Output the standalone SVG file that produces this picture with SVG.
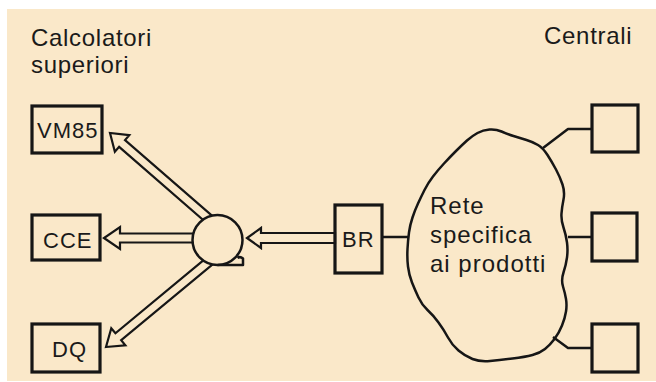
<svg xmlns="http://www.w3.org/2000/svg" width="656" height="382" viewBox="0 0 656 382">
<style>
.bg{fill:#FAE8C9}
.box{fill:none;stroke:#161616;stroke-width:3.2}
.lbl{font-family:"Liberation Sans",Arial,sans-serif;font-size:22px;letter-spacing:1px;fill:#1a1a1a}
.txt{font-family:"Liberation Sans",Arial,sans-serif;font-size:24px;letter-spacing:0.7px;fill:#1a1a1a}
.ctxt{font-family:"Liberation Sans",Arial,sans-serif;font-size:24px;letter-spacing:1px;fill:#1a1a1a}
.line{fill:none;stroke:#161616;stroke-width:2.5;stroke-linejoin:round}
.arrow{fill:#FAE8C9;stroke:#161616;stroke-width:2.2;stroke-linejoin:miter}
</style>
<rect x="0" y="0" width="656" height="382" fill="#ffffff"/>
<rect class="bg" x="7" y="9" width="649" height="372"/>
<text class="txt" x="31" y="46">Calcolatori</text>
<text class="txt" x="31" y="73">superiori</text>
<text class="txt" x="544" y="44">Centrali</text>
<g id="connectors">
<polygon class="arrow" transform="translate(110,133) rotate(221)" points="0,0 -16,-11 -16,-4.5 -135,-4.5 -135,4.5 -16,4.5 -16,11"/>
<polygon class="arrow" transform="translate(104,238) rotate(180)" points="0,0 -16,-11 -16,-4.5 -100,-4.5 -100,4.5 -16,4.5 -16,11"/>
<polygon class="arrow" transform="translate(106,347) rotate(140.3)" points="0,0 -16,-11 -16,-4.5 -140,-4.5 -140,4.5 -16,4.5 -16,11"/>
<polygon class="arrow" transform="translate(247,238) rotate(180)" points="0,0 -14,-10 -14,-5 -88,-5 -88,5 -14,5 -14,10"/>
<path class="line" d="M382,237 H408"/>
<path class="line" d="M543,148 L568,129 H592"/>
<path class="line" d="M568,237 H592"/>
<path class="line" d="M553,337 L568,348 H592"/>
</g>
<g id="tape">
<circle cx="217.5" cy="240" r="25" fill="#FAE8C9" stroke="#161616" stroke-width="2.5"/>
<path class="line" d="M217.5,265 H243 V258.5 Q240,256 237.5,258"/>
</g>
<g id="vm85">
<rect class="box" x="32" y="106" width="70" height="47"/>
<text class="lbl" x="37" y="138">VM85</text>
</g>
<g id="cce">
<rect class="box" x="32" y="215" width="68" height="45"/>
<text class="lbl" x="43" y="248">CCE</text>
</g>
<g id="dq">
<rect class="box" x="32" y="324" width="68" height="48"/>
<text class="lbl" x="52" y="357">DQ</text>
</g>
<g id="br">
<rect class="box" x="335" y="205" width="47" height="68"/>
<text class="lbl" x="342" y="247">BR</text>
</g>
<g id="rete">
<path class="line" stroke-width="3.2" d="M409,232.5 Q410,225 412.5,217.5 Q415,210 418,203.5 Q421,197 424.5,190 Q428,183 433,176.5 Q438,170 444,163.5 Q450,157 456,151 Q462,145 467,140.5 Q472,136 477.5,133 Q483,130 489.5,129.5 Q496,129 501.5,131.5 Q507,134 513.5,136 Q520,138 526.5,140 Q533,142 538,145 Q543,148 547.5,155 Q552,162 556,169.5 Q560,177 562.5,184.5 Q565,192 563.5,199.5 Q562,207 561.5,213.5 Q561,220 563.5,227.5 Q566,235 567,242.5 Q568,250 567,257.5 Q566,265 563.5,272.5 Q561,280 563,286.5 Q565,293 566,299 Q567,305 566,311.5 Q565,318 562,325.5 Q559,333 554.5,339 Q550,345 545,349 Q540,353 532.5,355 Q525,357 512.5,358.5 Q500,360 490,361 Q480,362 472.5,359 Q465,356 458.5,350.5 Q452,345 448,337.5 Q444,330 438.5,322.5 Q433,315 427.5,310 Q422,305 418.5,297.5 Q415,290 412,282.5 Q409,275 408,266.5 Q407,258 407.5,249 Q408,240 409,232.5 Z"/>
<text class="ctxt" x="430" y="214">Rete</text>
<text class="ctxt" x="430" y="243">specifica</text>
<text class="ctxt" x="430" y="272">ai prodotti</text>
</g>
<g id="c1"><rect class="box" x="592" y="105" width="46" height="47"/></g>
<g id="c2"><rect class="box" x="592" y="213" width="45" height="48"/></g>
<g id="c3"><rect class="box" x="592" y="324" width="46" height="48"/></g>
</svg>
